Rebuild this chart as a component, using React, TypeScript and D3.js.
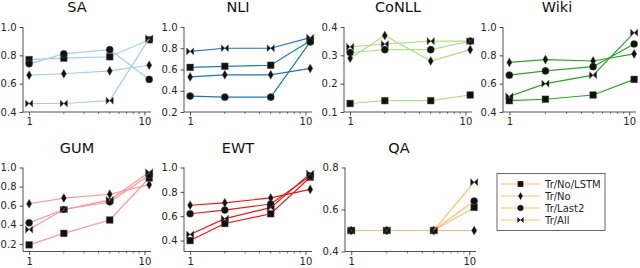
import React, { useEffect, useRef } from 'react';
import * as d3 from 'd3';

// x positions (number of layers) shared by every panel
const xValues = [1, 2, 5, 11];
const seriesNames = ['Tr/No/LSTM', 'Tr/No', 'Tr/Last2', 'Tr/All'];
const taskNames = ['SA', 'NLI', 'CoNLL', 'Wiki', 'GUM', 'EWT', 'QA'];
const taskColors = ['#a6cee3', '#1f78b4', '#b2df8a', '#33a02c', '#fb9a99', '#e31a1c', '#fdbf6f'];

// values per task, in seriesNames order
const saValues = [
    [0.77, 0.78, 0.79, 0.91],
    [0.66, 0.67, 0.69, 0.73],
    [0.74, 0.81, 0.84, 0.63],
    [0.46, 0.46, 0.48, 0.92],
];
const nliValues = [
    [0.62, 0.63, 0.64, 0.87],
    [0.53, 0.55, 0.55, 0.61],
    [0.35, 0.34, 0.34, 0.86],
    [0.77, 0.80, 0.80, 0.90],
];
const conllValues = [
    [0.13, 0.14, 0.14, 0.16],
    [0.29, 0.37, 0.28, 0.32],
    [0.31, 0.32, 0.32, 0.35],
    [0.33, 0.34, 0.35, 0.35],
];
const wikiValues = [
    [0.48, 0.49, 0.52, 0.63],
    [0.75, 0.77, 0.76, 0.81],
    [0.66, 0.69, 0.72, 0.88],
    [0.51, 0.60, 0.66, 0.96],
];
const gumValues = [
    [0.19, 0.31, 0.45, 0.89],
    [0.62, 0.68, 0.72, 0.82],
    [0.42, 0.56, 0.64, 0.92],
    [0.35, 0.56, 0.66, 0.95],
];
const ewtValues = [
    [0.40, 0.54, 0.62, 0.92],
    [0.69, 0.71, 0.75, 0.82],
    [0.62, 0.65, 0.70, 0.93],
    [0.45, 0.58, 0.67, 0.95],
];
const qaValues = [
    [0.50, 0.50, 0.50, 0.61],
    [0.50, 0.50, 0.50, 0.50],
    [0.50, 0.50, 0.50, 0.64],
    [0.50, 0.50, 0.50, 0.73],
];
const taskValues = [saValues, nliValues, conllValues, wikiValues, gumValues, ewtValues, qaValues];

// y domains and tick labels per task
const yDomains = [[0.4, 1.0], [0.2, 1.0], [0.1, 0.4], [0.4, 1.0], [0.12, 1.0], [0.31, 1.0], [0.4, 0.8]];
const yTicks = [
    [0.4, 0.6, 0.8, 1.0],
    [0.2, 0.4, 0.6, 0.8, 1.0],
    [0.1, 0.2, 0.3, 0.4],
    [0.4, 0.6, 0.8, 1.0],
    [0.2, 0.4, 0.6, 0.8, 1.0],
    [0.4, 0.6, 0.8, 1.0],
    [0.4, 0.6, 0.8],
];
const xTicks = [1, 10];
const xMinorTicks = [2, 3, 4, 5, 6, 7, 8, 9];

export default () => {
    const width = 640;
    const height = 268;
    const svgRef = useRef(null);

    useEffect(() => {
        const svg = d3.select(svgRef.current);
        svg.selectAll('*').remove();

        const font = 'DejaVu Sans, sans-serif';
        const ink = '#262626';

        // panel boxes [left, right, top, bottom]
        const boxes = [
            [23, 151, 27, 112],
            [184, 312, 27, 112],
            [344, 472, 27, 112],
            [503, 636, 27, 112],
            [23, 151, 167.5, 251.5],
            [184, 312, 167.5, 251.5],
            [345, 476, 167.5, 251.5],
        ];

        const markerPath = (i, s = 1) => {
            if (i === 0) return d3.symbol(d3.symbolSquare, 46 * s * s)();
            if (i === 1) return d3.symbol(d3.symbolDiamond, 24 * s * s)();
            if (i === 2) return d3.symbol(d3.symbolCircle, 40 * s * s)();
            const r = 3.6 * s;
            return `M${-r},${-r}L0,0L${-r},${r}ZM${r},${-r}L0,0L${r},${r}Z`;
        };

        taskNames.forEach((name, t) => {
            const [l, r, top, bottom] = boxes[t];
            const x = d3.scaleLog().domain([0.885, 11.4]).range([l, r]);
            const y = d3.scaleLinear().domain(yDomains[t]).range([bottom, top]);
            const g = svg.append('g');

            // axes
            const xAxis = g.append('g')
                .attr('transform', `translate(0,${bottom})`)
                .call(d3.axisBottom(x).tickValues(xTicks).tickFormat(d3.format('d')).tickSize(3.5).tickPadding(2.5));
            xAxis.selectAll('.minor')
                .data(xMinorTicks)
                .enter()
                .append('line')
                .attr('x1', d => x(d))
                .attr('x2', d => x(d))
                .attr('y1', 0)
                .attr('y2', 2)
                .attr('stroke', ink)
                .attr('stroke-width', 0.6);
            const yAxis = g.append('g')
                .attr('transform', `translate(${l},0)`)
                .call(d3.axisLeft(y).tickValues(yTicks[t]).tickFormat(d3.format('.1f')).tickSize(3.5).tickPadding(3));
            [xAxis, yAxis].forEach(a => {
                a.select('.domain').attr('stroke', ink).attr('stroke-width', 0.8).attr('d',
                    a === xAxis ? `M${l},0H${r}` : `M0,${bottom}V${top}`);
                a.selectAll('.tick line').attr('stroke', ink).attr('stroke-width', 0.8);
                a.selectAll('.tick text').attr('fill', ink).attr('font-size', 10).attr('font-family', font);
            });

            // title
            g.append('text')
                .attr('x', l + 54)
                .attr('y', top - 15)
                .attr('text-anchor', 'middle')
                .attr('font-size', 14.5)
                .attr('font-family', font)
                .attr('fill', '#111')
                .text(name);

            // series
            const line = d3.line()
                .x((d, i) => x(xValues[i]))
                .y(d => y(d));
            taskValues[t].forEach((vals, s) => {
                g.append('path')
                    .datum(vals)
                    .attr('fill', 'none')
                    .attr('stroke', taskColors[t])
                    .attr('stroke-width', 1.2)
                    .attr('d', line);
                g.selectAll(null)
                    .data(vals)
                    .enter()
                    .append('path')
                    .attr('transform', (d, i) => `translate(${x(xValues[i])},${y(d)})`)
                    .attr('d', markerPath(s))
                    .attr('fill', '#111')
                    .attr('stroke', '#666')
                    .attr('stroke-width', 0.4);
            });
        });

        // legend
        const lg = svg.append('g').attr('transform', 'translate(497,173.5)');
        lg.append('rect')
            .attr('width', 108)
            .attr('height', 57)
            .attr('fill', 'white')
            .attr('stroke', '#444')
            .attr('stroke-width', 0.8);
        seriesNames.forEach((name, s) => {
            const yy = 10.5 + s * 12;
            lg.append('line')
                .attr('x1', 4).attr('x2', 43)
                .attr('y1', yy).attr('y2', yy)
                .attr('stroke', taskColors[6])
                .attr('stroke-width', 1.2);
            lg.append('path')
                .attr('transform', `translate(23.5,${yy})`)
                .attr('d', markerPath(s, 0.85))
                .attr('fill', '#111');
            lg.append('text')
                .attr('x', 48)
                .attr('y', yy + 3.5)
                .attr('font-size', 10)
                .attr('font-family', font)
                .attr('fill', ink)
                .text(name);
        });
    }, []);

    return <>
        <svg ref={svgRef} width={width} height={height} style={{ position: 'absolute', left: 0, top: 0 }}></svg>
    </>;
};
